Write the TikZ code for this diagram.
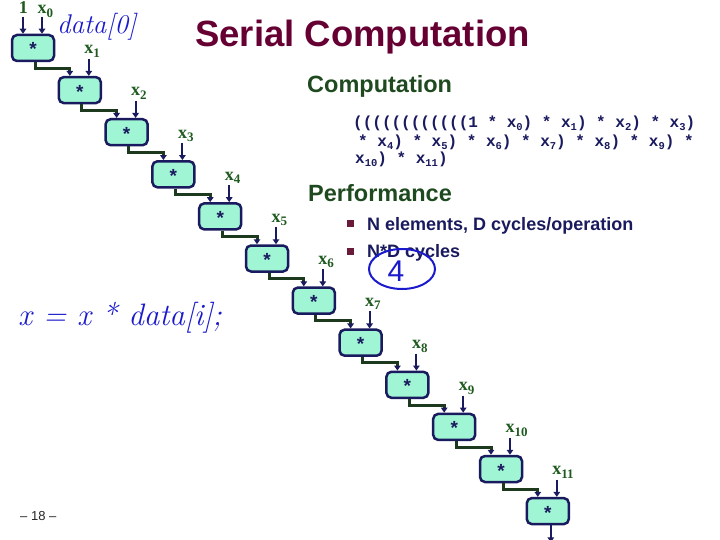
\documentclass[tikz,border=0pt]{standalone}
\usepackage{fontspec}
\setsansfont{Liberation Sans}
\newfontfamily\codefont{Liberation Mono}
\newfontfamily\labfont{Liberation Serif}
\usetikzlibrary{arrows.meta,calc}
\definecolor{boxfill}{HTML}{A0F5D5}
\definecolor{navy}{HTML}{1A1A5E}
\definecolor{linkgreen}{HTML}{1E3A1E}
\definecolor{headgreen}{HTML}{1F4A1F}
\definecolor{labgreen}{HTML}{1F5A1F}
\definecolor{titlered}{HTML}{660033}
\definecolor{pen}{HTML}{1A1ACC}
\definecolor{bulletred}{HTML}{6A1B3A}
\newcommand\sbx[1]{\raisebox{-3.5pt}{\fontsize{13}{13}\selectfont #1}}
\newcommand\sbc[1]{\raisebox{-2.5pt}{\fontsize{10.5}{10.5}\selectfont #1}}
\begin{document}
\begin{tikzpicture}[x=1pt,y=-1pt,
  opbox/.style={draw=navy, line width=2.5pt, fill=boxfill, rounded corners=5pt,
    minimum width=42pt, minimum height=26pt, inner sep=0pt, text height=5pt, text depth=0pt,
    font=\sffamily\bfseries\fontsize{19}{19}\selectfont, text=navy},
  inarrow/.style={draw=navy, line width=2pt, -{Triangle[length=5pt,width=6.5pt]}},
  link/.style={draw=linkgreen, line width=3pt, -{Triangle[length=5pt,width=6.5pt,color=navy]}},
  xlab/.style={text=labgreen, font=\labfont\bfseries\fontsize{18}{18}\selectfont, inner sep=0pt, anchor=base west},
  code/.style={text=navy, font=\codefont\bfseries\fontsize{16}{16}\selectfont, inner sep=0pt, anchor=base west},
  head/.style={text=headgreen, font=\sffamily\bfseries\fontsize{23.5}{26}\selectfont, inner sep=0pt, anchor=base west},
  btext/.style={text=navy, font=\sffamily\bfseries\fontsize{18}{20}\selectfont, inner sep=0pt, anchor=base west},
  bullet/.style={fill=bulletred, minimum size=7pt, inner sep=0pt},
  hand/.style={text=pen, inner sep=0pt, anchor=base west}
]
\useasboundingbox (0,0) rectangle (720,540);
% boxes
\foreach \i in {0,...,11}{
  \pgfmathsetmacro\cx{33+46.8*\i}
  \pgfmathsetmacro\cy{48+42.1*\i}
  \node[opbox] (b\i) at (\cx,\cy) {\raisebox{-5.5pt}{*}};
}
% right inputs
\foreach \i in {1,...,11}{
  \coordinate (rt\i) at ($(b\i.north)+(9,-17)$);
  \draw[inarrow] (rt\i) -- (rt\i |- b\i.north);
  \node[xlab] (xl\i) at ($(rt\i)+(-4.6,-5)$) {x\sbx{\i}};
}
% first box inputs
\coordinate (rt0) at ($(b0.north)+(9,-17)$);
\draw[inarrow] (rt0) -- (rt0 |- b0.north);
\node[xlab] (xl0) at ($(rt0)+(-4.6,-3.2)$) {x\sbx{0}};
\coordinate (lt0) at ($(b0.north)+(-10,-17)$);
\draw[inarrow] (lt0) -- (lt0 |- b0.north);
\node[xlab] (one) at ($(lt0)+(-4.3,-3.2)$) {1};
% chain links
\foreach \i [count=\j from 1] in {0,...,10}{
  \draw[link] ($(b\i.south)+(2,0)$) -- ++(0,6) -| ($(b\j.north)+(-10,0)$);
}
% output
\coordinate (out) at ($(b11.south)+(3,17)$);
\draw[inarrow] ($(b11.south)+(3,0)$) -- (out);
% title
\node[anchor=base west, inner sep=0pt, text=titlered, font=\sffamily\bfseries\fontsize{36.5}{40}\selectfont] (title) at (195,47) {Serial Computation};
% computation
\node[head] (hcomp) at (307,93) {Computation};
\node[code] (c1) at (353,128) {((((((((((((1 * x\sbc0) * x\sbc1) * x\sbc2) * x\sbc3)};
\node[code] (c2) at (358,147) {* x\sbc4) * x\sbc5) * x\sbc6) * x\sbc7) * x\sbc8) * x\sbc9) *};
\node[code] (c3) at (355,164) {x\sbc{10}) * x\sbc{11})};
% performance
\node[head] (hperf) at (308,202) {Performance};
\node[bullet] (bu1) at (350,224) {};
\node[bullet] (bu2) at (350,251) {};
\node[btext] (t1) at (367,230) {N elements, D cycles/operation};
\node[btext] (t2) at (367,257) {N*D cycles};
% page number
\node[anchor=base west, inner sep=0pt, font=\sffamily\fontsize{13}{15}\selectfont, text=black!85] (page) at (20,520) {– 18 –};
% handwriting
\node[hand, font=\rmfamily\itshape\fontsize{27}{30}\selectfont] (h1) at (57,34) {data[0]};
\node[hand, font=\rmfamily\itshape\fontsize{31}{34}\selectfont] (h2) at (18,325) {x = x * data[i];};
\draw[pen, line width=2pt] (402,269) ellipse [x radius=33pt, y radius=20pt];
\node[text=pen, font=\sffamily\fontsize{30}{32}\selectfont, inner sep=0pt] (h3) at (396,271) {4};
\end{tikzpicture}
\end{document}
